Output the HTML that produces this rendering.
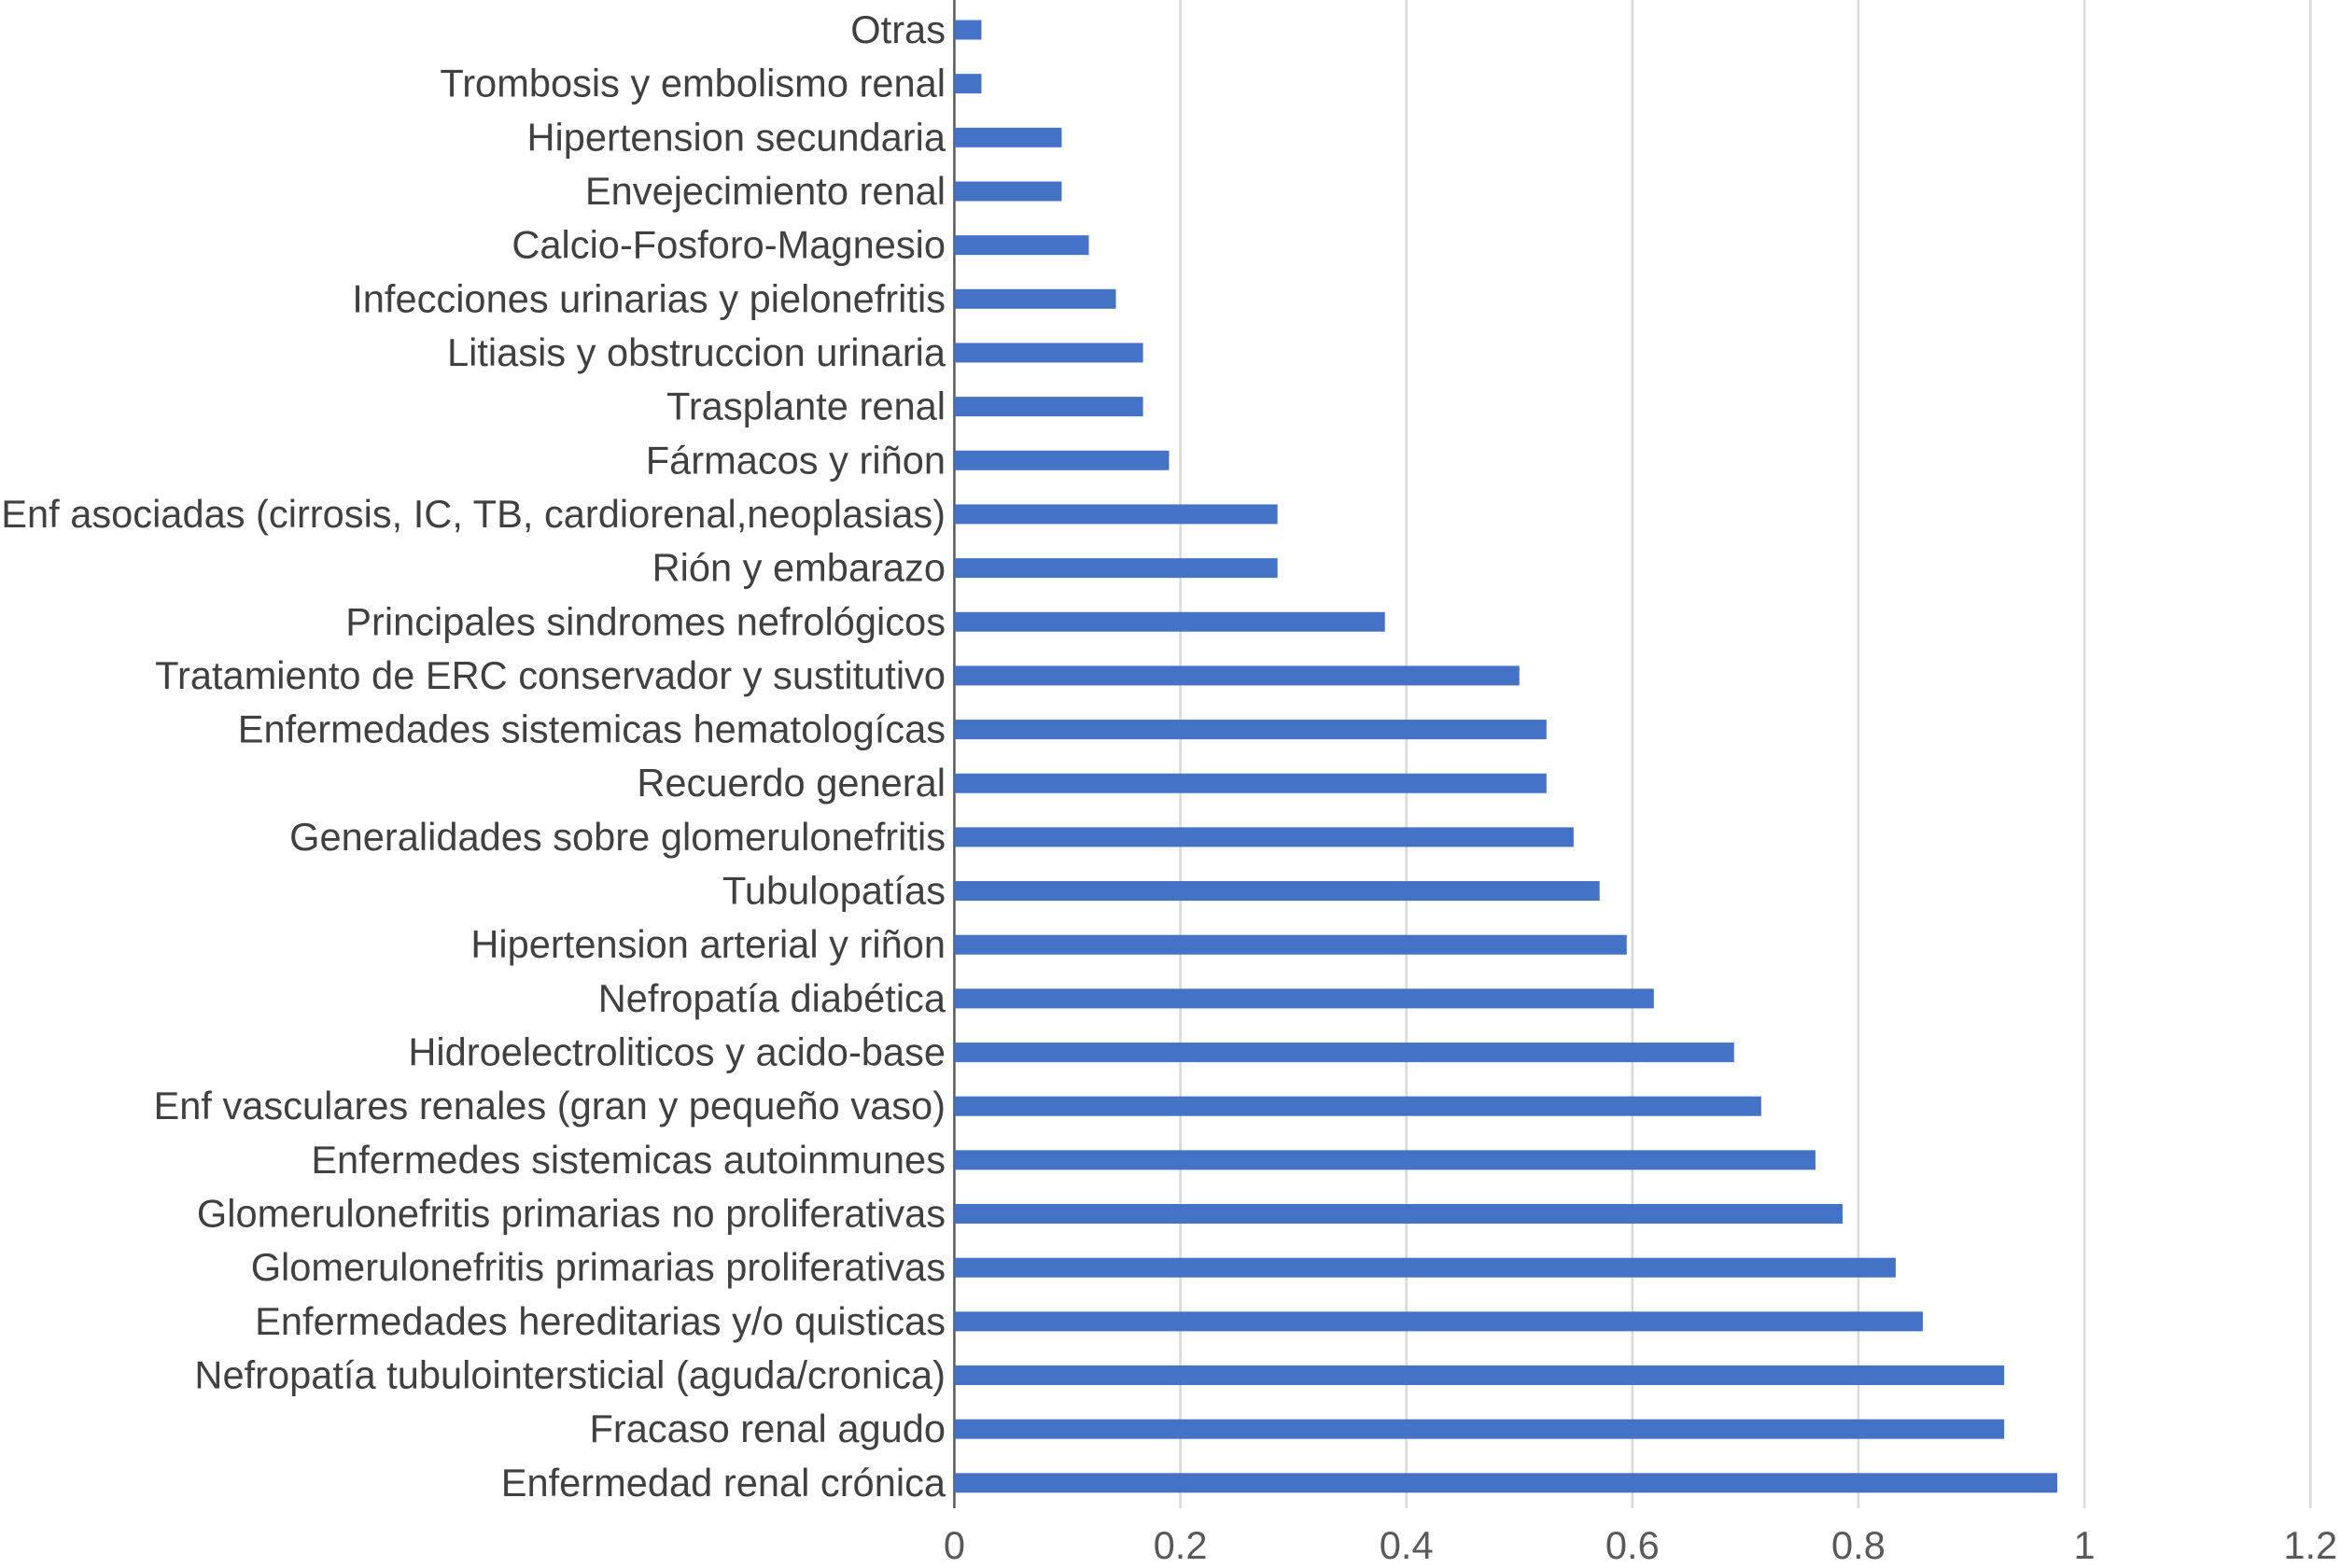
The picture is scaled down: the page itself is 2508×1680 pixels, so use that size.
<!DOCTYPE html>
<html><head><meta charset="utf-8">
<style>
html,body{margin:0;padding:0;background:#fff;}
svg{display:block;}
text{font-family:"Liberation Sans",Arial,sans-serif;}
</style></head>
<body>
<svg id="chart" width="2508" height="1680" viewBox="0 0 2508 1680" xmlns="http://www.w3.org/2000/svg">
<g id="grid"></g>
<g id="bars"></g>
<g id="labels"></g>
<g id="ticks"></g>
</svg>
<script>
const categories = ["Otras","Trombosis y embolismo renal","Hipertension secundaria","Envejecimiento renal","Calcio-Fosforo-Magnesio","Infecciones urinarias y pielonefritis","Litiasis y obstruccion urinaria","Trasplante renal","Fármacos y riñon","Enf asociadas (cirrosis, IC, TB, cardiorenal,neoplasias)","Rión y embarazo","Principales sindromes nefrológicos","Tratamiento de ERC conservador y sustitutivo","Enfermedades sistemicas hematologícas","Recuerdo general","Generalidades sobre glomerulonefritis","Tubulopatías","Hipertension arterial y riñon","Nefropatía diabética","Hidroelectroliticos y acido-base","Enf vasculares renales (gran y pequeño vaso)","Enfermedes sistemicas autoinmunes","Glomerulonefritis primarias no proliferativas","Glomerulonefritis primarias proliferativas","Enfermedades hereditarias y/o quisticas","Nefropatía tubulointersticial (aguda/cronica)","Fracaso renal agudo","Enfermedad renal crónica"];
const values = [0.024,0.024,0.095,0.095,0.119,0.143,0.167,0.167,0.19,0.286,0.286,0.381,0.5,0.524,0.524,0.548,0.571,0.595,0.619,0.69,0.714,0.762,0.786,0.833,0.857,0.929,0.929,0.976];
const tickValues = [0,0.2,0.4,0.6,0.8,1,1.2];
const tickLabels = ["0","0.2","0.4","0.6","0.8","1","1.2"];

const NS="http://www.w3.org/2000/svg";
const X0=1022.4, UNIT=1210.7, ROW0=32, ROWSTEP=57.66, BARH=21, PLOTBOTTOM=1616;
function xScale(v){return X0+v*UNIT;}
function yScale(i){return ROW0+i*ROWSTEP;}
function mk(tag,attrs,parent){const e=document.createElementNS(NS,tag);for(const k in attrs)e.setAttribute(k,attrs[k]);parent.appendChild(e);return e;}
const grid=document.getElementById('grid'),bars=document.getElementById('bars'),labels=document.getElementById('labels'),ticks=document.getElementById('ticks');
tickValues.forEach((t,i)=>{
  const x=xScale(t);
  if(t>0){
    const l=mk('line',{x1:x,x2:x,y1:0,y2:PLOTBOTTOM,stroke:'#d9d9d9','stroke-width':2.5},grid);
    
    
  }
  const tx=mk('text',{x:x,y:1670,'text-anchor':'middle','font-size':41.6,fill:'#595959'},ticks);
  tx.textContent=tickLabels[i];
  
  
});
categories.forEach((c,i)=>{
  const y=yScale(i);
  const r=mk('rect',{x:X0,y:y-BARH/2,width:xScale(values[i])-X0,height:BARH,fill:'#4472C4'},bars);
  
  
  const t=mk('text',{x:1013,y:y+14,'text-anchor':'end','font-size':41.6,fill:'#404040'},labels);
  t.textContent=c;
  
  
});
const ax=mk('line',{x1:X0,x2:X0,y1:0,y2:PLOTBOTTOM,stroke:'#595959','stroke-width':2.5},grid);


</script>
</body></html>
